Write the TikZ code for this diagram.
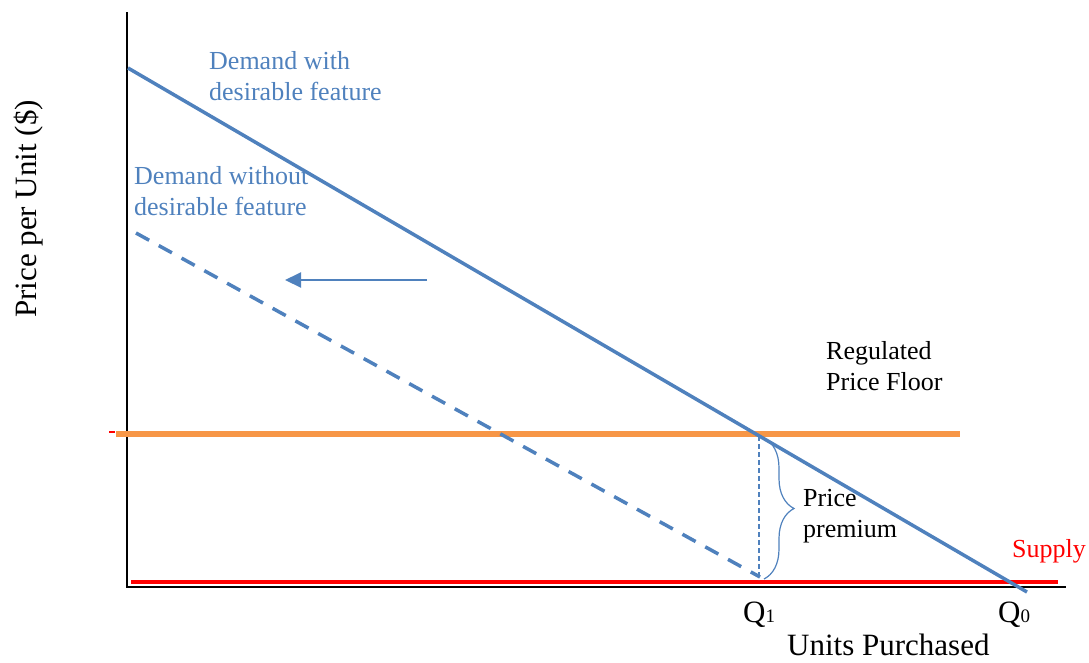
\documentclass[tikz,border=0pt]{standalone}
\usepackage{fontspec}
\setmainfont{Liberation Serif}
\usetikzlibrary{arrows.meta,decorations.pathreplacing}
\definecolor{demandblue}{HTML}{4F81BD}
\definecolor{floororange}{HTML}{F79646}
\definecolor{supplyred}{HTML}{FF0000}
\tikzset{
  axis/.style={draw=black, line width=2pt},
  demand/.style={draw=demandblue, line width=3.5pt},
  olddemand/.style={demand, dash pattern=on 15pt off 11pt},
  floorline/.style={draw=floororange, line width=5.5pt},
  supplyline/.style={draw=supplyred, line width=4pt},
  guide/.style={draw=demandblue, line width=1.3pt, dash pattern=on 5pt off 3pt},
  % two-line labels are placed by the baseline of their last line
  label/.style={inner sep=0pt, anchor=base west, align=left,
    font=\fontsize{26}{30.5}\selectfont},
  axislabel/.style={inner sep=0pt, font=\fontsize{31}{36}\selectfont},
}
\begin{document}
\begin{tikzpicture}[x=1pt, y=-1pt]
\useasboundingbox (0,0) rectangle (1089,662);

% axes
\coordinate (ytop) at (127,12);
\coordinate (origin) at (127,587);
\coordinate (xend) at (1066,587);
\draw[axis] (ytop) -- (origin) -- (xend);

% regulated price floor and supply
\coordinate (floorL) at (116,434);
\coordinate (floorR) at (960,434);
\draw[floorline] (floorL) -- (floorR);
\coordinate (tickL) at (109,432);
\coordinate (tickR) at (115,432);
\draw[supplyred, line width=1.5pt] (tickL) -- (tickR);
\coordinate (supL) at (131,581.5);
\coordinate (supR) at (1058,581.5);
\draw[supplyline] (supL) -- (supR);

% demand curves
\coordinate (dA) at (128,68);
\coordinate (dB) at (1027,592);
\draw[demand] (dA) -- (dB);
\coordinate (dnA) at (136,233);
\coordinate (dnB) at (760,577);
\draw[olddemand] (dnA) -- (dnB);

% Q1 guide and price premium brace
\coordinate (q1top) at (759,436);
\coordinate (q1bot) at (759,580);
\draw[guide] (q1top) -- (q1bot);
\coordinate (braceT) at (764,438);
\coordinate (braceB) at (764,579);
\draw[demandblue, line width=1.2pt,
  decorate, decoration={brace, amplitude=30pt}] (braceT) -- (braceB);

% shift arrow
\coordinate (arrS) at (427,280);
\coordinate (arrE) at (285,280);
\draw[demandblue, line width=2pt,
  -{Triangle[length=16pt, width=15pt]}] (arrS) -- (arrE);

% labels
\node[label, text=demandblue] (lwith) at (209,100)
  {Demand with\\desirable feature};
\node[label, text=demandblue] (lwithout) at (134,215)
  {Demand without\\desirable feature};
\node[label] (lfloor) at (826,390) {Regulated\\Price Floor};
\node[label] (lprem) at (803,537) {Price\\premium};
\node[label, text=supplyred] (lsupply) at (1012,557) {Supply};
\node[axislabel, anchor=base west] (lq1) at (743,622)
  {Q{\fontsize{19}{20}\selectfont 1}};
\node[axislabel, anchor=base west] (lq0) at (998,622)
  {Q{\fontsize{19}{20}\selectfont 0}};
\node[axislabel, anchor=base west, text depth=0pt] (lx) at (787,655)
  {Units Purchased};
\node[axislabel, anchor=base west, rotate=90] (ly) at (36,318)
  {Price per Unit (\$)};
\end{tikzpicture}
\end{document}
